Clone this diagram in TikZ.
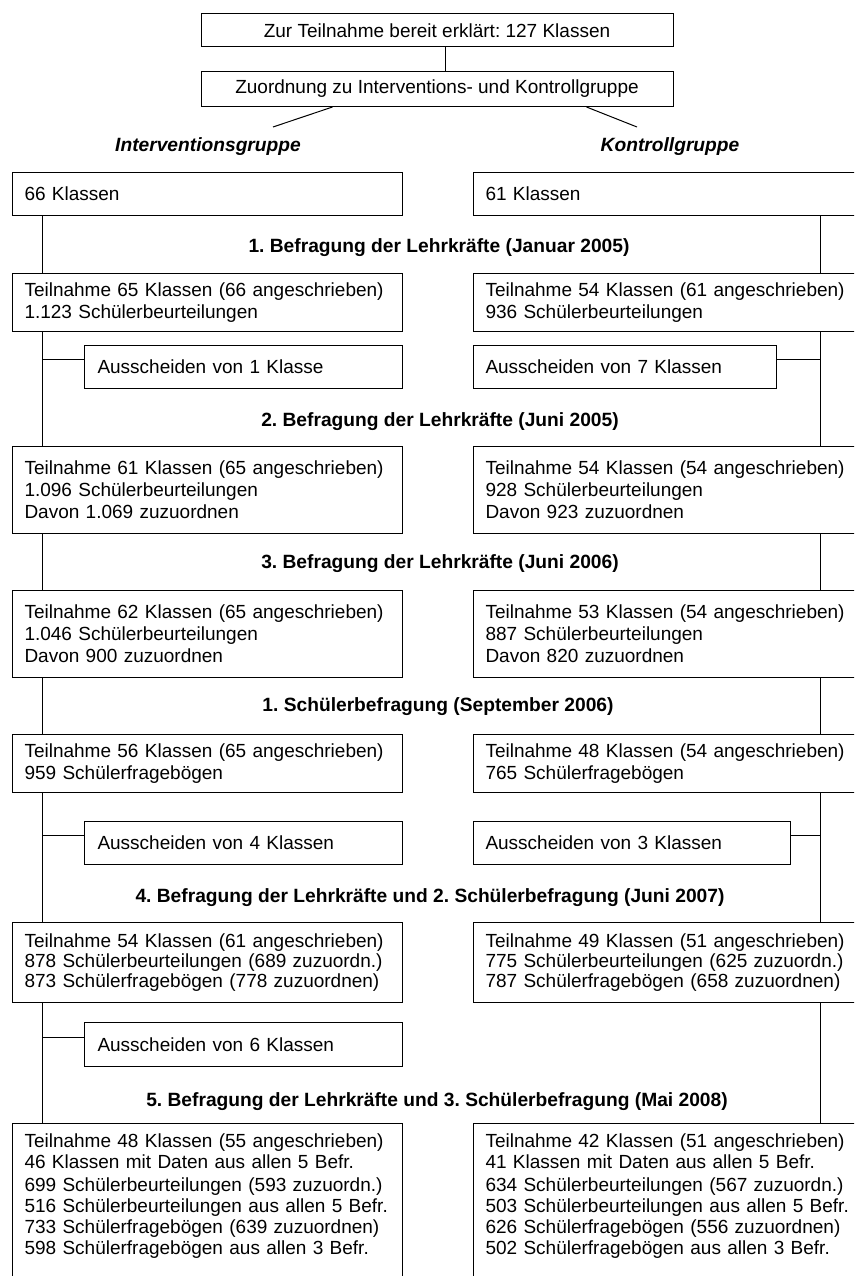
\documentclass[tikz,border=0pt]{standalone}
\usepackage{fontspec}
\setmainfont{Liberation Sans}
\usetikzlibrary{calc}
\frenchspacing
\begin{document}
\begin{tikzpicture}[x=1pt,y=-1pt,line width=1pt,
  every node/.style={font=\fontsize{19}{22}\selectfont},
  cbox/.style={draw, anchor=center, inner sep=0pt},
  wbox/.style={draw, anchor=north west, inner xsep=12pt, inner ysep=0pt, text width=366pt, align=left, minimum height=#1},
  abox/.style={draw, anchor=north west, inner xsep=12pt, inner ysep=0pt, align=left, minimum height=43pt},
  head/.style={font=\bfseries\fontsize{19.2}{22}\selectfont},
  grp/.style={font=\bfseries\itshape\fontsize{19.2}{22}\selectfont}
]
\useasboundingbox (0,0) rectangle (854,1276);
\clip (0,0) rectangle (854,1276);
\coordinate (lx) at (42,0);
\coordinate (rx) at (820,0);

% top
\node[cbox, minimum width=472pt, minimum height=33pt] (T1) at (437,30.5) {Zur Teilnahme bereit erklärt: 127 Klassen};
\node[cbox, minimum width=472pt, minimum height=35pt] (T2) at (437,89) {Zuordnung zu Interventions- und Kontrollgruppe};
\draw ([xshift=8pt]T1.south) -- ([xshift=8pt]T2.north);
\node[grp] (GI) at (208,147) {Interventionsgruppe};
\node[grp] (GK) at (670,147) {Kontrollgruppe};
\coordinate (dI) at (273,127);
\coordinate (dK) at (637,127);
\draw ($(T2.south west)+(132,0)$) -- (dI);
\draw ($(T2.south west)+(386,0)$) -- (dK);

% row 0
\node[wbox=43pt] (L0) at (12,172) {66 Klassen};
\node[wbox=43pt] (R0) at (473,172) {61 Klassen};

\node[head] (H1) at (439,248) {1. Befragung der Lehrkräfte (Januar 2005)};
\node[wbox=58pt] (L1) at (12,273) {Teilnahme 65 Klassen (66 angeschrieben)\\1.123 Schülerbeurteilungen};
\node[wbox=58pt] (R1) at (473,273) {Teilnahme 54 Klassen (61 angeschrieben)\\936 Schülerbeurteilungen};
\node[abox, text width=292pt, inner xsep=13pt] (AL1) at (84,345) {Ausscheiden von 1 Klasse};
\node[abox, text width=279pt] (AR1) at (473,345) {Ausscheiden von 7 Klassen};

\node[head] (H2) at (440,422) {2. Befragung der Lehrkräfte (Juni 2005)};
\node[wbox=87pt] (L2) at (12,446) {Teilnahme 61 Klassen (65 angeschrieben)\\1.096 Schülerbeurteilungen\\Davon 1.069 zuzuordnen};
\node[wbox=87pt] (R2) at (473,446) {Teilnahme 54 Klassen (54 angeschrieben)\\928 Schülerbeurteilungen\\Davon 923 zuzuordnen};

\node[head] (H3) at (440,564) {3. Befragung der Lehrkräfte (Juni 2006)};
\node[wbox=87pt] (L3) at (12,590) {Teilnahme 62 Klassen (65 angeschrieben)\\1.046 Schülerbeurteilungen\\Davon 900 zuzuordnen};
\node[wbox=87pt] (R3) at (473,590) {Teilnahme 53 Klassen (54 angeschrieben)\\887 Schülerbeurteilungen\\Davon 820 zuzuordnen};

\node[head] (H4) at (438,707) {1. Schülerbefragung (September 2006)};
\node[wbox=58pt] (L4) at (12,734) {Teilnahme 56 Klassen (65 angeschrieben)\\959 Schülerfragebögen};
\node[wbox=58pt] (R4) at (473,734) {Teilnahme 48 Klassen (54 angeschrieben)\\765 Schülerfragebögen};
\node[abox, text width=292pt, inner xsep=13pt] (AL4) at (84,821) {Ausscheiden von 4 Klassen};
\node[abox, text width=293pt] (AR4) at (473,821) {Ausscheiden von 3 Klassen};

\node[head] (H5) at (430,898) {4. Befragung der Lehrkräfte und 2. Schülerbefragung (Juni 2007)};
\node[wbox=80pt, font=\fontsize{19}{20}\selectfont] (L5) at (12,922) {Teilnahme 54 Klassen (61 angeschrieben)\\878 Schülerbeurteilungen (689 zuzuordn.)\\873 Schülerfragebögen (778 zuzuordnen)};
\node[wbox=80pt, font=\fontsize{19}{20}\selectfont] (R5) at (473,922) {Teilnahme 49 Klassen (51 angeschrieben)\\775 Schülerbeurteilungen (625 zuzuordn.)\\787 Schülerfragebögen (658 zuzuordnen)};
\node[abox, text width=292pt, inner xsep=13pt, minimum height=44pt] (AL6) at (84,1022) {Ausscheiden von 6 Klassen};

\node[head] (H6) at (437,1102) {5. Befragung der Lehrkräfte und 3. Schülerbefragung (Mai 2008)};
\node[wbox=0pt, inner ysep=10.5pt, font=\fontsize{19}{21}\selectfont] (L6) at (12,1123) {Teilnahme 48 Klassen (55 angeschrieben)\\46 Klassen mit Daten aus allen 5 Befr.\\[2pt]699 Schülerbeurteilungen (593 zuzuordn.)\\\mbox{516 Schülerbeurteilungen aus allen 5 Befr.}\\733 Schülerfragebögen (639 zuzuordnen)\\598 Schülerfragebögen aus allen 3 Befr.\rule[-80pt]{0pt}{80pt}};
\node[wbox=0pt, inner ysep=10.5pt, font=\fontsize{19}{21}\selectfont] (R6) at (473,1123) {Teilnahme 42 Klassen (51 angeschrieben)\\41 Klassen mit Daten aus allen 5 Befr.\\[2pt]634 Schülerbeurteilungen (567 zuzuordn.)\\\mbox{503 Schülerbeurteilungen aus allen 5 Befr.}\\626 Schülerfragebögen (556 zuzuordnen)\\502 Schülerfragebögen aus allen 3 Befr.\rule[-80pt]{0pt}{80pt}};

% vertical connectors
\draw (L0.south -| lx) -- (L1.north -| lx);
\draw (L1.south -| lx) -- (L2.north -| lx);
\draw (L2.south -| lx) -- (L3.north -| lx);
\draw (L3.south -| lx) -- (L4.north -| lx);
\draw (L4.south -| lx) -- (L5.north -| lx);
\draw (L5.south -| lx) -- (L6.north -| lx);
\draw (R0.south -| rx) -- (R1.north -| rx);
\draw (R1.south -| rx) -- (R2.north -| rx);
\draw (R2.south -| rx) -- (R3.north -| rx);
\draw (R3.south -| rx) -- (R4.north -| rx);
\draw (R4.south -| rx) -- (R5.north -| rx);
\draw (R5.south -| rx) -- (R6.north -| rx);

% branches to dropout boxes
\coordinate (a1) at ($(AL1.north west)+(0,14)$);
\draw (a1) -- (a1 -| lx);
\coordinate (b1) at ($(AR1.north east)+(0,14)$);
\draw (b1) -- (b1 -| rx);
\coordinate (a4) at ($(AL4.north west)+(0,14)$);
\draw (a4) -- (a4 -| lx);
\coordinate (b4) at ($(AR4.north east)+(0,14)$);
\draw (b4) -- (b4 -| rx);
\coordinate (a6) at ($(AL6.north west)+(0,15)$);
\draw (a6) -- (a6 -| lx);
\end{tikzpicture}
\end{document}
